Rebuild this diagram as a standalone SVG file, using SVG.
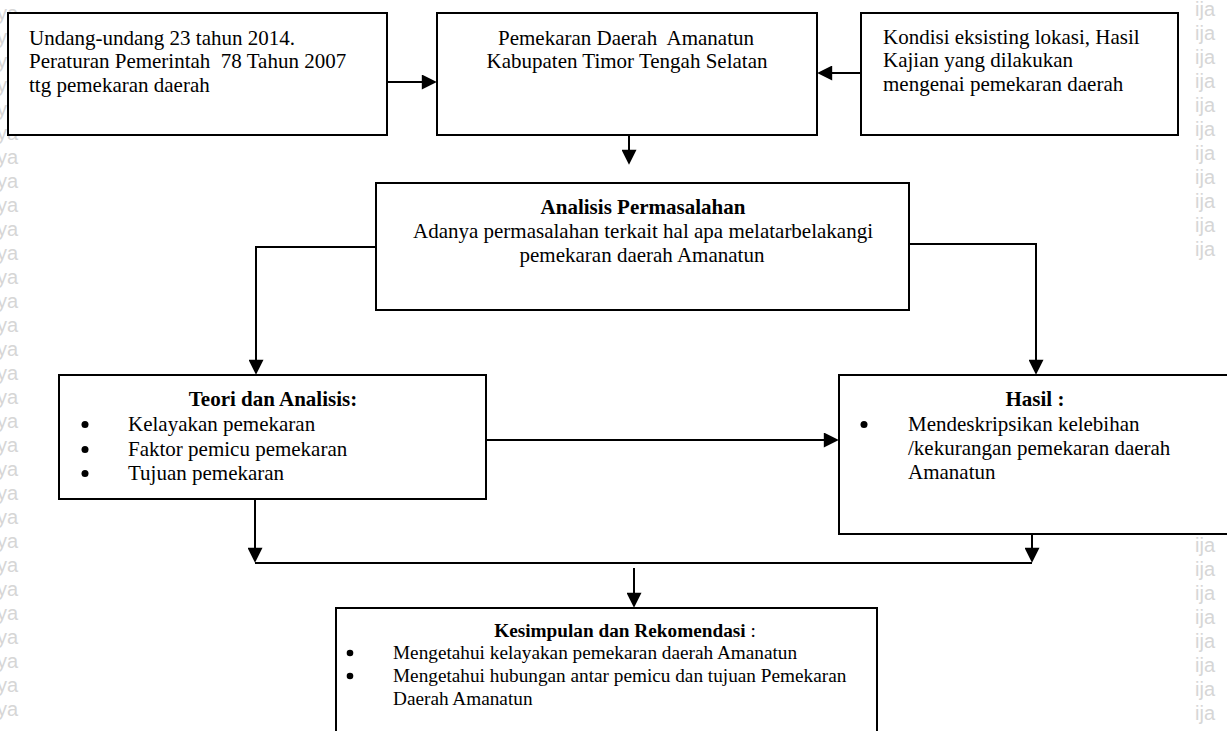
<svg xmlns="http://www.w3.org/2000/svg" width="1227" height="731" viewBox="0 0 1227 731">
<style>
.box{fill:#fff;stroke:#000;stroke-width:2}
.t{font-family:"Liberation Serif","Times New Roman",serif;font-size:21px;fill:#000}
.s{font-size:19.25px}
.b{font-weight:bold}
.m{text-anchor:middle}
.c{fill:none;stroke:#000;stroke-width:2}
.dot{fill:#000}
.wm{font-family:"Liberation Sans",Arial,sans-serif;font-size:20px;fill:#d6d6d6}
</style>
<defs>
<marker id="ah" markerUnits="userSpaceOnUse" viewBox="0 0 16 16" refX="13" refY="8" markerWidth="16" markerHeight="15" orient="auto"><path d="M0,0L16,8L0,16z" fill="#000"/></marker>
</defs>
<g id="watermark">
<text class="wm" x="-3" y="20">ya</text><text class="wm" x="-3" y="44">ya</text><text class="wm" x="-3" y="68">ya</text><text class="wm" x="-3" y="92">ya</text><text class="wm" x="-3" y="116">ya</text><text class="wm" x="-3" y="140">ya</text><text class="wm" x="-3" y="164">ya</text><text class="wm" x="-3" y="188">ya</text><text class="wm" x="-3" y="212">ya</text><text class="wm" x="-3" y="236">ya</text><text class="wm" x="-3" y="260">ya</text><text class="wm" x="-3" y="284">ya</text><text class="wm" x="-3" y="308">ya</text><text class="wm" x="-3" y="332">ya</text><text class="wm" x="-3" y="356">ya</text><text class="wm" x="-3" y="380">ya</text><text class="wm" x="-3" y="404">ya</text><text class="wm" x="-3" y="428">ya</text><text class="wm" x="-3" y="452">ya</text><text class="wm" x="-3" y="476">ya</text><text class="wm" x="-3" y="500">ya</text><text class="wm" x="-3" y="524">ya</text><text class="wm" x="-3" y="548">ya</text><text class="wm" x="-3" y="572">ya</text><text class="wm" x="-3" y="596">ya</text><text class="wm" x="-3" y="620">ya</text><text class="wm" x="-3" y="644">ya</text><text class="wm" x="-3" y="668">ya</text><text class="wm" x="-3" y="692">ya</text><text class="wm" x="-3" y="716">ya</text>
<text class="wm" x="1195" y="16">ija</text><text class="wm" x="1195" y="40">ija</text><text class="wm" x="1195" y="64">ija</text><text class="wm" x="1195" y="88">ija</text><text class="wm" x="1195" y="112">ija</text><text class="wm" x="1195" y="136">ija</text><text class="wm" x="1195" y="160">ija</text><text class="wm" x="1195" y="184">ija</text><text class="wm" x="1195" y="208">ija</text><text class="wm" x="1195" y="232">ija</text><text class="wm" x="1195" y="256">ija</text>
<text class="wm" x="1195" y="552">ija</text><text class="wm" x="1195" y="576">ija</text><text class="wm" x="1195" y="600">ija</text><text class="wm" x="1195" y="624">ija</text><text class="wm" x="1195" y="648">ija</text><text class="wm" x="1195" y="672">ija</text><text class="wm" x="1195" y="696">ija</text><text class="wm" x="1195" y="720">ija</text>
</g>
<g id="n-uu">
<rect class="box" x="8" y="13" width="379" height="122"/>
<text class="t" x="29" y="45">Undang-undang 23 tahun 2014.</text>
<text class="t" x="29" y="68" xml:space="preserve">Peraturan Pemerintah  78 Tahun 2007</text>
<text class="t" x="29" y="92">ttg pemekaran daerah</text>
</g>
<g id="n-pemekaran">
<rect class="box" x="437" y="13" width="380" height="122"/>
<text class="t m" x="626" y="45" xml:space="preserve">Pemekaran Daerah  Amanatun</text>
<text class="t m" x="627" y="68">Kabupaten Timor Tengah Selatan</text>
</g>
<g id="n-kondisi">
<rect class="box" x="861" y="13" width="317" height="122"/>
<text class="t" x="883" y="44">Kondisi eksisting lokasi, Hasil</text>
<text class="t" x="883" y="67">Kajian yang dilakukan</text>
<text class="t" x="883" y="91">mengenai pemekaran daerah</text>
</g>
<g id="n-analisis">
<rect class="box" x="376" y="183" width="533" height="127"/>
<text class="t m b" x="643" y="214">Analisis Permasalahan</text>
<text class="t m" x="643" y="238">Adanya permasalahan terkait hal apa melatarbelakangi</text>
<text class="t m" x="642" y="262">pemekaran daerah Amanatun</text>
</g>
<g id="n-teori">
<rect class="box" x="59" y="375" width="427" height="124"/>
<text class="t m b" x="273" y="406">Teori dan Analisis:</text>
<circle class="dot" cx="85" cy="424.5" r="3.5"/>
<text class="t" x="128" y="431">Kelayakan pemekaran</text>
<circle class="dot" cx="85" cy="449.5" r="3.5"/>
<text class="t" x="128" y="456">Faktor pemicu pemekaran</text>
<circle class="dot" cx="85" cy="473.5" r="3.5"/>
<text class="t" x="128" y="480">Tujuan pemekaran</text>
</g>
<g id="n-hasil">
<rect class="box" x="839" y="375" width="400" height="159"/>
<text class="t m b" x="1035" y="406">Hasil :</text>
<circle class="dot" cx="864" cy="424.5" r="3.5"/>
<text class="t" x="908" y="431">Mendeskripsikan kelebihan</text>
<text class="t" x="908" y="455">/kekurangan pemekaran daerah</text>
<text class="t" x="908" y="479">Amanatun</text>
</g>
<g id="n-kesimpulan">
<rect class="box" x="336" y="608" width="541" height="140"/>
<text class="t s m" x="625" y="637"><tspan class="b">Kesimpulan dan Rekomendasi</tspan> :</text>
<circle class="dot" cx="350" cy="653" r="3.3"/>
<text class="t s" x="393" y="659">Mengetahui kelayakan pemekaran daerah Amanatun</text>
<circle class="dot" cx="350" cy="676" r="3.3"/>
<text class="t s" x="393" y="682">Mengetahui hubungan antar pemicu dan tujuan Pemekaran</text>
<text class="t s" x="393" y="705">Daerah Amanatun</text>
</g>
<g id="connectors">
<path class="c" d="M387,82H434" marker-end="url(#ah)"/>
<path class="c" d="M861,73H820" marker-end="url(#ah)"/>
<path class="c" d="M629,136V162" marker-end="url(#ah)"/>
<path class="c" d="M376,247H256V372" marker-end="url(#ah)"/>
<path class="c" d="M909,244H1036V372" marker-end="url(#ah)"/>
<path class="c" d="M486,440H836" marker-end="url(#ah)"/>
<path class="c" d="M255,500V560" marker-end="url(#ah)"/>
<path class="c" d="M1032,535V560" marker-end="url(#ah)"/>
<path class="c" d="M255,563H1032"/>
<path class="c" d="M634,568V605" marker-end="url(#ah)"/>
</g>
</svg>
